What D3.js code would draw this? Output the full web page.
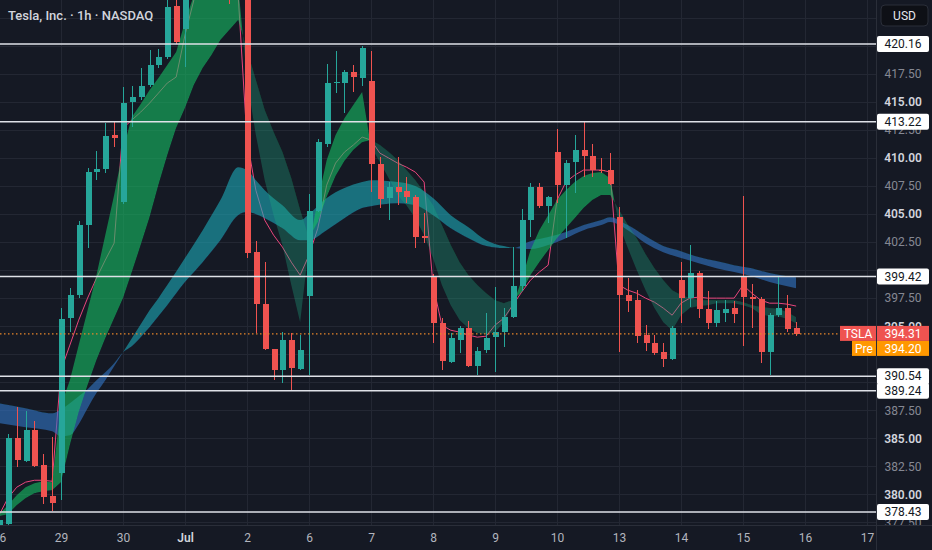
<!DOCTYPE html>
<html>
<head>
<meta charset="utf-8">
<script src="https://cdn.jsdelivr.net/npm/d3@7"></script>
<style>
html, body { margin: 0; padding: 0; background: #151924; overflow: hidden; }
svg { display: block; font-family: Roboto, "Liberation Sans", sans-serif; }
</style>
</head>
<body>
<svg id="chart" width="932" height="550"></svg>
<script>
// session labels under the time axis (7 hourly bars per session)
var dayLabels = ["26", "29", "30", "Jul", "2", "6", "7", "8", "9", "10", "13", "14", "15", "16", "17"];

// hourly candles, Jun 26 .. Jul 15
var opens = [377.0, 377.4, 385.0, 382.98, 385.74, 382.62, 379.86,
             381.91, 395.73, 397.78, 404.02, 408.75, 409.0, 412.05,
             406.07, 414.99, 415.43, 416.5, 418.29, 419.0, 423.55,
             421.5, 425.8, 428.4, 429.6, 428.1, 429.3, 427.0,
             428.5, 401.61, 396.98, 392.96, 391.09, 393.77, 391.18,
             397.69, 405.27, 411.24, 416.7, 416.68, 417.66, 417.13,
             416.86, 409.46, 406.43, 407.41, 407.05, 406.52, 403.0,
             399.38, 395.28, 391.8, 393.77, 394.84, 391.45, 392.87,
             394.03, 394.48, 395.82, 398.58, 404.47, 407.41, 405.71,
             410.53, 407.59, 409.64, 410.71, 410.17, 408.9, 408.92,
             404.73, 397.78, 397.33, 394.21, 393.5, 392.7, 392.07,
             399.12, 397.51, 399.74, 396.53, 395.28, 396.2, 396.62,
             399.47, 397.6, 397.42, 392.7, 396.0, 396.62, 394.84];
var highs = [378.2, 385.4, 387.79, 387.44, 386.55, 383.6, 385.12,
             396.62, 398.4, 404.38, 409.1, 410.6, 413.1, 413.2,
             416.33, 416.4, 418.0, 419.6, 419.7, 424.6, 425.2,
             427.0, 429.5, 431.0, 432.0, 430.5, 431.2, 430.0,
             429.0, 402.6, 400.72, 393.0, 394.48, 394.4, 394.2,
             406.78, 411.7, 418.38, 419.5, 417.8, 418.3, 420.0,
             419.5, 410.1, 407.86, 410.1, 408.3, 406.7, 405.1,
             399.65, 395.7, 394.4, 395.0, 395.46, 393.1, 396.2,
             398.5, 396.6, 402.06, 405.45, 407.8, 407.8, 406.6,
             412.58, 409.8, 412.05, 413.2, 411.24, 410.0, 410.44,
             405.6, 399.3, 398.2, 395.1, 394.2, 393.5, 395.0,
             400.72, 402.24, 399.9, 398.1, 397.2, 397.33, 397.2,
             406.6, 398.76, 397.6, 396.2, 399.38, 397.78, 395.4];
var lows = [376.5, 376.8, 382.44, 382.9, 382.45, 379.14, 378.52,
            379.5, 394.5, 397.5, 402.0, 408.0, 408.66, 410.97,
            405.9, 412.8, 415.17, 416.3, 418.0, 418.8, 420.2,
            418.1, 424.9, 426.5, 427.2, 425.6, 423.7, 425.0,
            401.08, 394.4, 392.9, 390.2, 389.93, 389.31, 391.1,
            390.65, 405.2, 410.97, 415.8, 414.0, 415.9, 416.4,
            406.96, 405.5, 404.47, 405.8, 406.0, 401.97, 402.4,
            393.5, 391.09, 391.7, 392.6, 391.4, 390.65, 392.6,
            390.9, 393.14, 395.7, 398.1, 402.95, 405.5, 404.2,
            406.0, 402.86, 406.87, 408.3, 408.3, 408.66, 407.6,
            392.7, 396.3, 393.5, 392.79, 392.4, 391.36, 392.0,
            395.28, 396.71, 395.73, 394.75, 394.9, 395.4, 395.3,
            393.23, 394.84, 391.72, 390.65, 395.8, 394.48, 394.1];
var closes = [377.7, 385.03, 383.07, 385.74, 382.53, 379.77, 379.23,
              395.64, 397.78, 404.02, 408.75, 409.0, 411.96, 411.78,
              414.9, 415.43, 416.41, 418.29, 419.0, 423.46, 420.34,
              425.8, 428.4, 429.6, 428.1, 429.3, 427.0, 428.8,
              401.5, 396.98, 392.96, 391.09, 393.77, 391.27, 392.87,
              405.27, 411.42, 416.68, 416.8, 417.66, 417.2, 419.8,
              409.46, 406.34, 407.41, 406.96, 406.52, 402.95, 402.85,
              395.28, 391.9, 393.95, 394.84, 391.45, 392.79, 393.95,
              394.48, 395.82, 398.58, 404.47, 407.41, 405.71, 406.52,
              407.59, 409.55, 410.71, 410.17, 408.92, 408.8, 407.68,
              397.78, 397.25, 394.12, 393.5, 392.6, 392.07, 394.84,
              397.51, 399.74, 396.53, 395.28, 396.44, 396.5, 396.09,
              397.6, 397.4, 392.7, 396.0, 396.62, 394.75, 394.31];

// pink intraday line, one value per bar
var vwap = [378.14, 379.66, 380.64, 381.09, 381.26, 381.26, 381.17,
            391.08, 393.31, 395.54, 397.50, 399.28, 400.89, 402.41,
            412.66, 413.38, 414.09, 414.89, 415.78, 416.68, 417.21,
            420.96, 424.08, 424.97, 425.42, 425.42, 425.15, 424.53,
            411.59, 407.13, 404.46, 403.12, 402.05, 400.71, 399.55,
            401.33, 403.74, 407.58, 409.54, 410.52, 411.15, 411.86,
            411.59, 410.43, 409.99, 409.54, 409.18, 408.74, 407.85,
            398.66, 395.09, 394.64, 394.47, 394.20, 394.02, 394.11,
            395.09, 395.71, 396.87, 398.03, 399.10, 399.82, 400.44,
            406.24, 407.85, 408.47, 408.92, 408.92, 408.92, 408.74,
            398.66, 398.21, 397.94, 397.50, 397.14, 396.61, 395.98,
            397.05, 397.50, 397.59, 397.50, 397.50, 397.50, 397.50,
            398.66, 397.94, 397.32, 397.05, 397.05, 396.96, 396.79];

// fast cloud: quick line and slow line, one value per bar
var fastA = [378.23, 379.03, 379.93, 380.64, 381.00, 381.17, 381.09,
             387.95, 390.18, 393.31, 396.43, 399.55, 403.12, 406.69,
             410.70, 413.64, 414.80, 416.05, 417.12, 418.28, 419.44,
             422.12, 424.53, 425.42, 425.86, 426.04, 426.04, 425.42,
             416.94, 412.04, 408.02, 404.90, 402.23, 398.66, 395.36,
             402.23, 406.24, 409.81, 412.04, 413.55, 414.71, 415.87,
             410.97, 409.63, 408.20, 406.69, 405.79, 404.63, 403.12,
             401.07, 398.66, 396.87, 395.54, 394.82, 394.38, 394.29,
             394.47, 395.36, 396.87, 399.10, 401.78, 403.56, 404.90,
             406.24, 407.13, 407.85, 408.38, 408.65, 408.74, 408.20,
             404.01, 401.96, 400.00, 398.21, 396.61, 395.36, 394.64,
             395.98, 396.61, 396.79, 396.87, 397.05, 397.05, 397.05,
             396.87, 396.61, 396.07, 395.89, 395.89, 395.63, 395.27];
var fastB = [378.05, 378.23, 379.03, 379.66, 380.10, 380.28, 380.37,
             381.09, 384.39, 387.33, 389.74, 391.97, 393.93, 395.71,
             397.50, 399.82, 402.23, 404.72, 407.58, 410.25, 412.66,
             414.45, 416.50, 418.01, 419.17, 420.51, 421.40, 422.30,
             419.62, 416.94, 414.27, 412.31, 410.52, 408.20, 405.35,
             402.85, 404.28, 406.51, 408.38, 409.72, 410.70, 411.41,
             411.59, 411.15, 410.52, 409.81, 408.92, 408.02, 406.95,
             405.79, 404.01, 402.23, 400.71, 399.55, 398.66, 397.94,
             397.32, 397.05, 397.32, 398.03, 399.55, 400.71, 401.78,
             402.85, 403.74, 404.63, 405.53, 406.24, 406.69, 406.69,
             405.35, 404.01, 402.85, 401.42, 400.17, 399.10, 398.21,
             397.77, 397.50, 397.32, 397.32, 397.32, 397.32, 397.32,
             397.14, 396.87, 396.70, 396.61, 396.52, 396.25, 395.80];

// slow cloud, read at these bar numbers
var slowIdx = [0, 3, 6, 7, 8, 9, 10, 11, 12, 13, 14, 15, 16, 17, 18, 19, 21, 23, 25, 27,
               28, 29, 30, 32, 34, 35, 37, 39, 41, 42, 45, 47, 49, 51, 53, 55, 57, 58,
               60, 62, 64, 66, 68, 69, 71, 73, 75, 77, 79, 81, 83, 85, 87, 89, 90];
var slowA = [386.35, 385.99, 385.64, 385.19, 385.28, 386.26, 387.69, 389.03, 390.18, 391.43,
             392.68, 393.93, 395.18, 396.43, 397.50, 398.66, 401.07, 403.56, 406.24, 409.18,
             408.92, 408.02, 407.13, 405.79, 404.46, 404.99, 406.42, 407.31, 407.85, 408.02,
             407.85, 407.49, 406.42, 404.90, 403.83, 402.67, 402.14, 402.00, 401.87, 402.23,
             402.85, 403.56, 404.01, 404.28, 403.56, 402.40, 401.60, 401.07, 400.62, 400.17,
             399.82, 399.46, 398.93, 398.57, 398.39];
var slowB = [388.13, 387.69, 387.24, 387.60, 388.13, 388.76, 389.38, 390.18, 390.90, 391.70,
             392.68, 393.22, 394.02, 394.91, 395.89, 396.87, 398.93, 400.71, 402.67, 404.90,
             405.17, 404.99, 404.63, 403.74, 402.67, 402.67, 403.56, 404.63, 405.53, 405.70,
             405.97, 405.79, 404.90, 403.74, 402.85, 402.14, 401.96, 401.96, 402.58, 402.94,
             403.39, 404.01, 404.46, 404.72, 404.01, 403.03, 402.14, 401.69, 401.16, 400.80,
             400.44, 400.17, 399.73, 399.46, 399.37];

var priceTicks = [377.5, 380, 382.5, 385, 387.5, 390, 392.5, 395, 397.5, 400,
                  402.5, 405, 407.5, 410, 412.5, 415, 417.5, 420, 422.5];
var levels = [420.16, 413.22, 399.42, 390.54, 389.24, 378.43];
var lastPrice = 394.31;
var prePrice = 394.20;

var W = 932, H = 550, plotW = 876, plotH = 525;
var upCol = "#26a69a", downCol = "#ef5350";

var svg = d3.select("#chart");
var x = d3.scaleLinear().domain([0, 98]).range([-1, 867]);
var y = d3.scaleLinear().domain([377.271, 424.083]).range([plotH, 0]);
var bars = d3.range(opens.length);
var dayIdx = dayLabels.map(function(d, k) { return k * 7; });
var preY = y(lastPrice) + 15;

var defs = svg.append("defs");
defs.append("clipPath").attr("id", "plotClip")
    .append("rect").attr("width", plotW).attr("height", plotH);
defs.append("clipPath").attr("id", "axisClip")
    .append("rect").attr("x", plotW).attr("width", W - plotW).attr("height", plotH);

var plot = svg.append("g").attr("clip-path", "url(#plotClip)");

// grid
plot.selectAll("line.vg").data(dayIdx).enter().append("line")
    .attr("x1", function(d) { return Math.round(x(d)) + 0.5; })
    .attr("x2", function(d) { return Math.round(x(d)) + 0.5; })
    .attr("y1", 0).attr("y2", plotH)
    .attr("stroke", "#232733").attr("stroke-width", 1);
plot.selectAll("line.hg").data(priceTicks).enter().append("line")
    .attr("x1", 0).attr("x2", plotW)
    .attr("y1", function(d) { return Math.round(y(d)) + 0.5; })
    .attr("y2", function(d) { return Math.round(y(d)) + 0.5; })
    .attr("stroke", "#232733").attr("stroke-width", 1);

// pink line sits under the clouds
plot.append("path")
    .datum(bars)
    .attr("fill", "none")
    .attr("stroke", "#e8457c")
    .attr("stroke-width", 1)
    .attr("d", d3.line().x(function(i) { return x(i); }).y(function(i) { return y(vwap[i]); }));

// fills between two lines, coloured by which one is on top
function cloud(id, idx, A, B, curve, upFill, downFill) {
    var between = d3.area().curve(curve)
        .x(function(d, k) { return x(idx[k]); })
        .y0(function(d, k) { return y(B[k]); })
        .y1(function(d, k) { return y(A[k]); });
    var above = d3.area().curve(curve)
        .x(function(d, k) { return x(idx[k]); })
        .y0(-20)
        .y1(function(d, k) { return y(B[k]); });
    var below = d3.area().curve(curve)
        .x(function(d, k) { return x(idx[k]); })
        .y0(function(d, k) { return y(B[k]); })
        .y1(plotH + 20);
    defs.append("clipPath").attr("id", id + "Up").append("path").attr("d", above(idx));
    defs.append("clipPath").attr("id", id + "Dn").append("path").attr("d", below(idx));
    var g = plot.append("g");
    g.append("path").attr("d", between(idx)).attr("fill", upFill)
        .attr("clip-path", "url(#" + id + "Up)");
    g.append("path").attr("d", between(idx)).attr("fill", downFill)
        .attr("clip-path", "url(#" + id + "Dn)");
}

cloud("slow", slowIdx, slowA, slowB, d3.curveMonotoneX,
      "rgba(28,170,185,0.6)", "rgba(50,118,200,0.6)");
cloud("fast", bars, fastA, fastB, d3.curveLinear,
      "rgba(22,190,100,0.6)", "rgba(30,170,130,0.33)");

// candles
var candle = plot.selectAll("g.candle").data(bars).enter().append("g")
    .attr("class", "candle")
    .attr("shape-rendering", "crispEdges");
candle.append("line")
    .attr("x1", function(i) { return Math.round(x(i)) + 0.5; })
    .attr("x2", function(i) { return Math.round(x(i)) + 0.5; })
    .attr("y1", function(i) { return y(highs[i]); })
    .attr("y2", function(i) { return y(lows[i]); })
    .attr("stroke", function(i) { return closes[i] >= opens[i] ? upCol : downCol; });
candle.append("rect")
    .attr("x", function(i) { return Math.round(x(i)) - 2.5; })
    .attr("width", 6)
    .attr("y", function(i) { return y(Math.max(opens[i], closes[i])); })
    .attr("height", function(i) { return Math.max(1, Math.abs(y(opens[i]) - y(closes[i]))); })
    .attr("fill", function(i) { return closes[i] >= opens[i] ? upCol : downCol; });

// horizontal levels
plot.selectAll("line.level").data(levels).enter().append("line")
    .attr("x1", 0).attr("x2", plotW)
    .attr("y1", function(d) { return y(d); })
    .attr("y2", function(d) { return y(d); })
    .attr("stroke", "#dfe2e8").attr("stroke-width", 1.5);

// last price dotted line
plot.append("line")
    .attr("x1", 0).attr("x2", plotW)
    .attr("y1", y(lastPrice)).attr("y2", y(lastPrice))
    .attr("stroke", "#e8862a").attr("stroke-width", 1.2)
    .attr("stroke-dasharray", "1.5,2.5");

// separators
svg.append("line").attr("x1", plotW + 0.5).attr("x2", plotW + 0.5).attr("y1", 0).attr("y2", H)
    .attr("stroke", "#2a2e39");
svg.append("line").attr("x1", 0).attr("x2", W).attr("y1", plotH + 0.5).attr("y2", plotH + 0.5)
    .attr("stroke", "#2a2e39");

// price axis; labels sitting right under a tag are not drawn
function covered(t) {
    var ty = y(t);
    if (ty < 30) return true;
    if (Math.abs(ty - preY) < 7) return true;
    return levels.some(function(l) { return Math.abs(ty - y(l)) < 7; });
}
var yAxis = d3.axisRight(y).tickValues(priceTicks.filter(function(t) { return !covered(t); }))
    .tickSize(0).tickFormat(d3.format(".2f"));
var ya = svg.append("g").attr("clip-path", "url(#axisClip)")
    .append("g").attr("transform", "translate(" + plotW + ",0)").call(yAxis);
ya.select(".domain").remove();
ya.attr("font-family", null).attr("font-size", null);
ya.selectAll("text")
    .attr("x", 27)
    .attr("text-anchor", "middle")
    .attr("font-size", 12)
    .attr("font-weight", function(d) { return d % 5 === 0 ? 600 : 400; })
    .attr("fill", function(d) { return d % 5 === 0 ? "#d1d4dc" : "#858893"; });

// time axis
var xAxis = d3.axisBottom(x).tickValues(dayIdx).tickSize(0).tickPadding(8)
    .tickFormat(function(d, k) { return dayLabels[k]; });
var xa = svg.append("g").attr("transform", "translate(0," + plotH + ")").call(xAxis);
xa.select(".domain").remove();
xa.attr("font-family", null).attr("font-size", null);
xa.selectAll("text")
    .attr("font-size", 12)
    .attr("font-weight", function(d, k) { return dayLabels[k] === "Jul" ? 600 : 400; })
    .attr("fill", function(d, k) { return dayLabels[k] === "Jul" ? "#d1d4dc" : "#b2b5be"; });

// level tags on the axis
var tags = svg.selectAll("g.tag").data(levels).enter().append("g")
    .attr("transform", function(d) { return "translate(" + (plotW + 1) + "," + y(d) + ")"; });
tags.append("rect").attr("x", 0).attr("y", -8).attr("width", 52).attr("height", 16).attr("rx", 2)
    .attr("fill", "#ffffff");
tags.append("text").attr("x", 26).attr("dy", "0.35em").attr("text-anchor", "middle")
    .attr("font-size", 12).attr("fill", "#131722")
    .text(function(d) { return d3.format(".2f")(d); });

// last price and pre-market tags
function priceTag(yc, name, nameW, value, col) {
    var g = svg.append("g").attr("transform", "translate(0," + yc + ")");
    g.append("rect").attr("x", plotW - nameW).attr("y", -7.5).attr("width", nameW).attr("height", 15)
        .attr("fill", col);
    g.append("text").attr("x", plotW - nameW / 2).attr("dy", "0.35em").attr("text-anchor", "middle")
        .attr("font-size", 12).attr("fill", "#ffffff").text(name);
    g.append("rect").attr("x", plotW + 1).attr("y", -7.5).attr("width", 52).attr("height", 15)
        .attr("fill", col);
    g.append("text").attr("x", plotW + 27).attr("dy", "0.35em").attr("text-anchor", "middle")
        .attr("font-size", 12).attr("fill", "#ffffff").text(d3.format(".2f")(value));
}
priceTag(y(lastPrice) - 0.5, "TSLA", 36, lastPrice, "#ef5350");
priceTag(preY - 0.5, "Pre", 24, prePrice, "#ff9800");

// currency box
svg.append("rect").attr("x", 881).attr("y", 5).attr("width", 47).attr("height", 21).attr("rx", 4)
    .attr("fill", "#0e1016").attr("stroke", "#2a2e39");
svg.append("text").attr("x", 904.5).attr("y", 15.5).attr("dy", "0.35em").attr("text-anchor", "middle")
    .attr("font-size", 12).attr("fill", "#e6e8ee").text("USD");

// legend title
svg.append("text").attr("x", 8).attr("y", 15).attr("dy", "0.35em")
    .attr("font-size", 13).attr("font-weight", 500).attr("fill", "#d1d4dc")
    .text("Tesla, Inc. · 1h · NASDAQ");
</script>
</body>
</html>
